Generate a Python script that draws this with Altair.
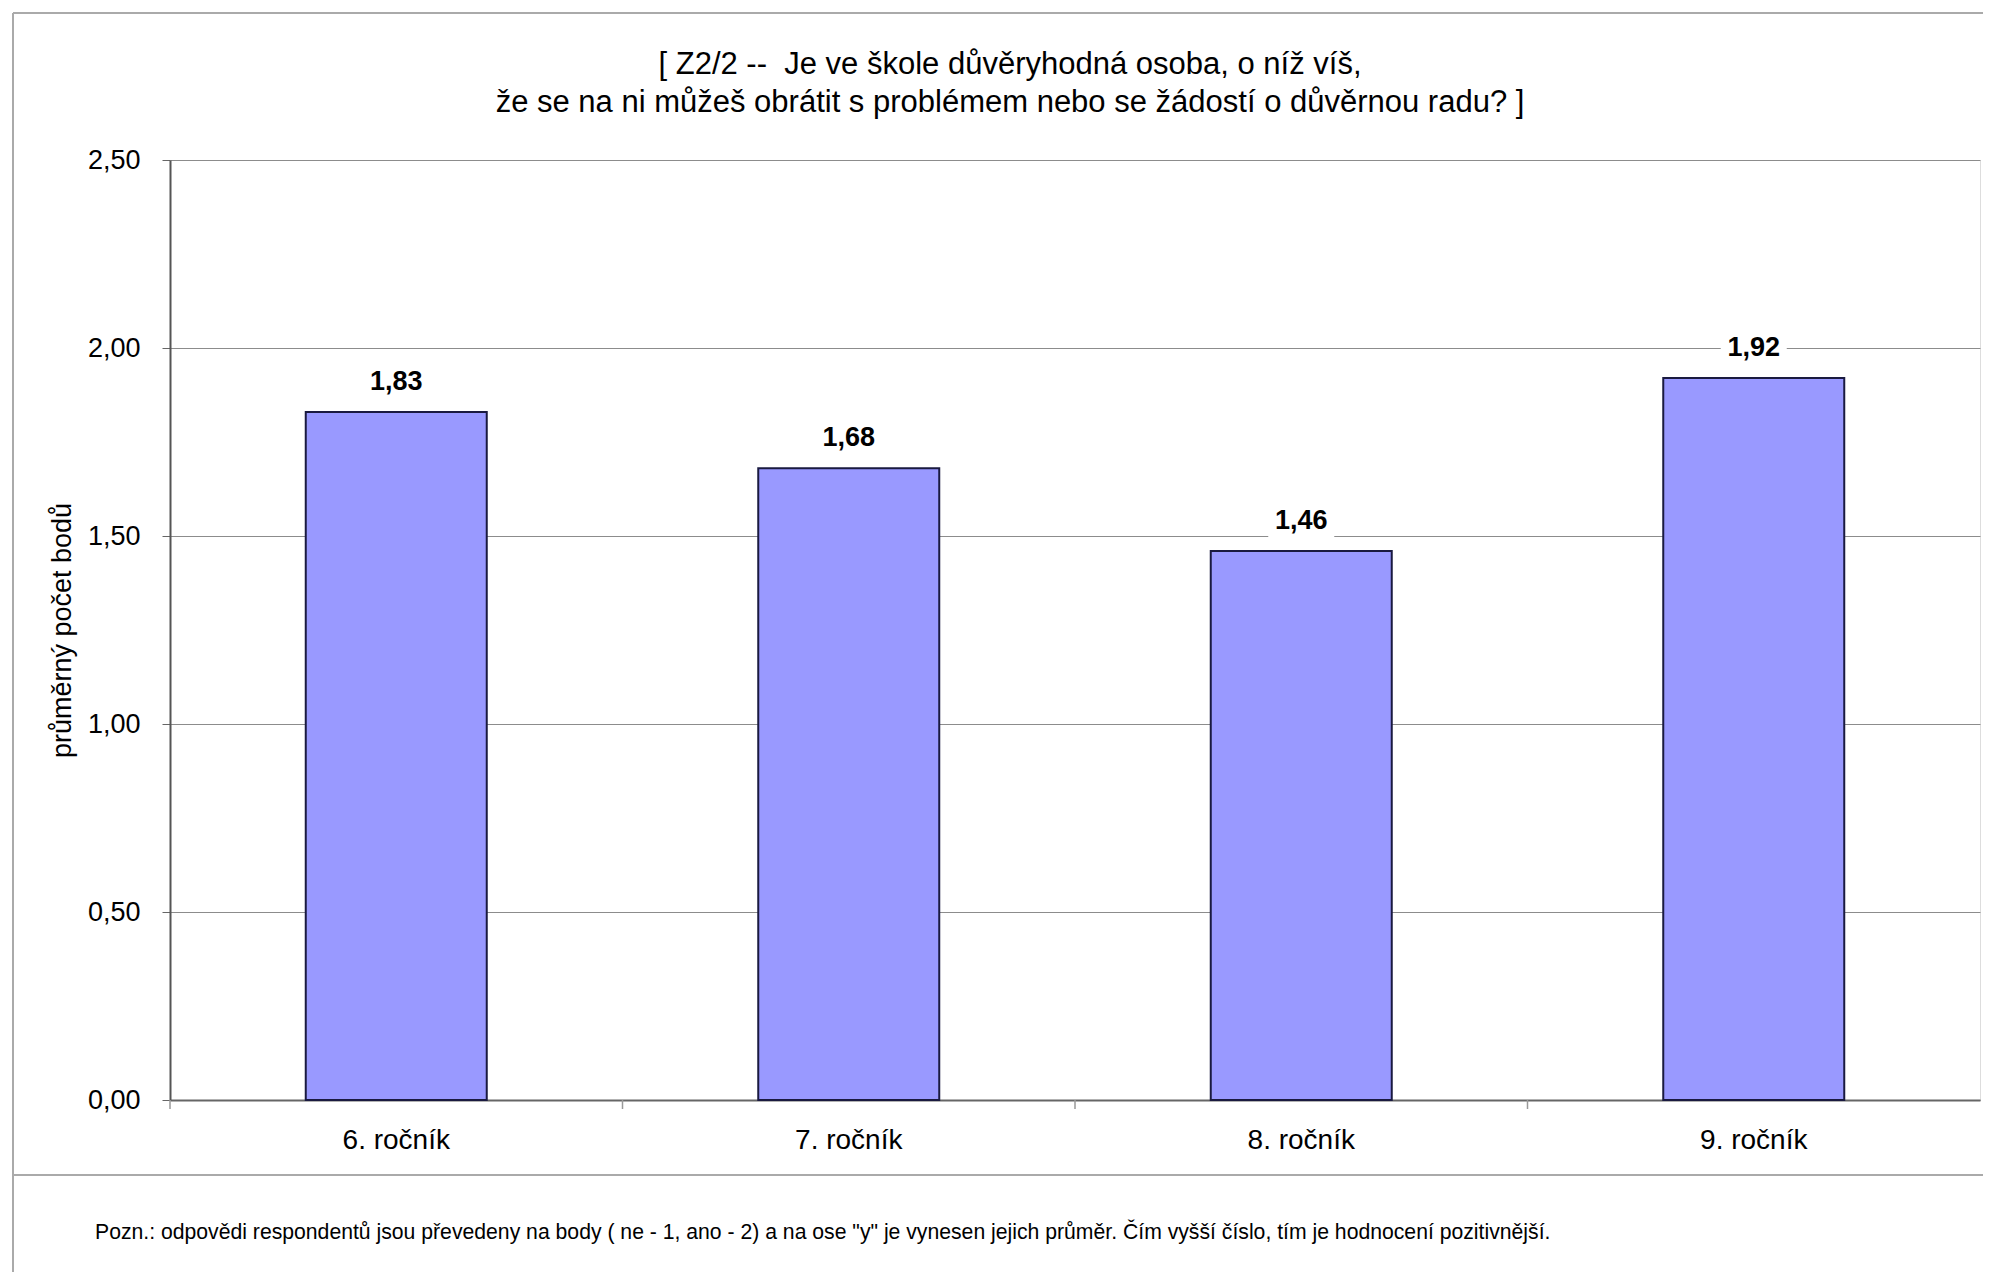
import altair as alt
import pandas as pd

categories = ["6. ročník", "7. ročník", "8. ročník", "9. ročník"]
values = [1.83, 1.68, 1.46, 1.92]
value_labels = ["1,83", "1,68", "1,46", "1,92"]
y_ticks = [0, 0.5, 1.0, 1.5, 2.0, 2.5]

title_lines = [
    "[ Z2/2 --\u00a0\u00a0Je ve škole důvěryhodná osoba, o níž víš,",
    "že se na ni můžeš obrátit s problémem nebo se žádostí o důvěrnou radu? ]",
]
y_title = "průměrný počet bodů"
note = ('Pozn.: odpovědi respondentů jsou převedeny na body ( ne - 1, ano - 2) a na ose "y" '
        'je vynesen jejich průměr. Čím vyšší číslo, tím je hodnocení pozitivnější.')

df = pd.DataFrame({"cat": categories, "val": values, "lab": value_labels})

FONT = "Liberation Sans"
W, H = 1810, 940
STEP = W / len(categories)

x_enc = alt.X(
    "cat:N",
    sort=categories,
    scale=alt.Scale(paddingInner=0.6, paddingOuter=0.3),
    axis=alt.Axis(
        title=None, labelAngle=0, labelFontSize=28, labelFont=FONT, labelColor="#000",
        labelPadding=26, ticks=False, tickSize=0,
        domainColor="#666", domainWidth=2, grid=False,
    ),
)
y_enc = alt.Y(
    "val:Q",
    scale=alt.Scale(domain=[0, 2.5], nice=False),
    axis=alt.Axis(
        title=y_title, values=y_ticks,
        labelExpr="replace(format(datum.value, '.2f'), '.', ',')",
        labelFontSize=27, labelFont=FONT, labelColor="#000", labelPadding=22,
        tickSize=8, tickColor="#666", domainColor="#555", domainWidth=2,
        gridColor="#8c8c8c", gridWidth=1,
        titleFontSize=27, titleFont=FONT, titleFontWeight="normal", titleColor="#000",
        titlePadding=11,
    ),
)

base = alt.Chart(df)

bars = base.mark_bar(color="#9999FF", stroke="#1a1a40", strokeWidth=2).encode(x=x_enc, y=y_enc)

x_ticks = base.mark_rule(color="#999999", strokeWidth=1.5, xOffset=-STEP / 2).encode(
    x=alt.X("cat:N", sort=categories), y=alt.value(H), y2=alt.value(H + 9))

label_bg = base.mark_point(
    shape="M-1,-0.5L1,-0.5L1,0.5L-1,0.5Z", filled=True, color="white", opacity=1,
    size=4356, yOffset=-30, strokeWidth=0,
).encode(x="cat:N", y="val:Q")

labels = base.mark_text(
    font=FONT, fontSize=27, fontWeight="bold", color="#000", baseline="middle", dy=-30,
).encode(x="cat:N", y="val:Q", text="lab:N")

frame_df = pd.DataFrame({"k": [0]})
frame = alt.Chart(frame_df)
line_style = dict(color="#aaaaaa", strokeWidth=2)
left_line = frame.mark_rule(**line_style).encode(
    x=alt.value(-157), y=alt.value(-147), y2=alt.value(1112))
top_line = frame.mark_rule(**line_style).encode(
    x=alt.value(-157), x2=alt.value(1815), y=alt.value(-147))
sep_line = frame.mark_rule(**line_style).encode(
    x=alt.value(-157), x2=alt.value(1815), y=alt.value(1015))

title1 = alt.Chart(pd.DataFrame({"t": [title_lines[0]]})).mark_text(
    font=FONT, fontSize=31, align="center", baseline="middle", color="#000",
).encode(x=alt.value(840), y=alt.value(-95), text="t:N")
title2 = alt.Chart(pd.DataFrame({"t": [title_lines[1]]})).mark_text(
    font=FONT, fontSize=31, align="center", baseline="middle", color="#000",
).encode(x=alt.value(840), y=alt.value(-57), text="t:N")

note_df = pd.DataFrame({"t": [note]})
note_text = alt.Chart(note_df).mark_text(
    font=FONT, fontSize=21.2, align="left", baseline="middle", color="#000",
).encode(x=alt.value(-75), y=alt.value(1073), text="t:N")

chart = alt.layer(
    bars, x_ticks, label_bg, labels, left_line, top_line, sep_line, title1, title2, note_text
).properties(
    width=W, height=H,
    autosize=alt.AutoSizeParams(type="none"),
    padding={"left": 162, "top": 152, "right": 3, "bottom": 172},
).configure_view(
    stroke="#888888", strokeWidth=1.5,
).configure(background="white")

chart.save("out.html", embed_options={"renderer": "svg", "actions": False})
